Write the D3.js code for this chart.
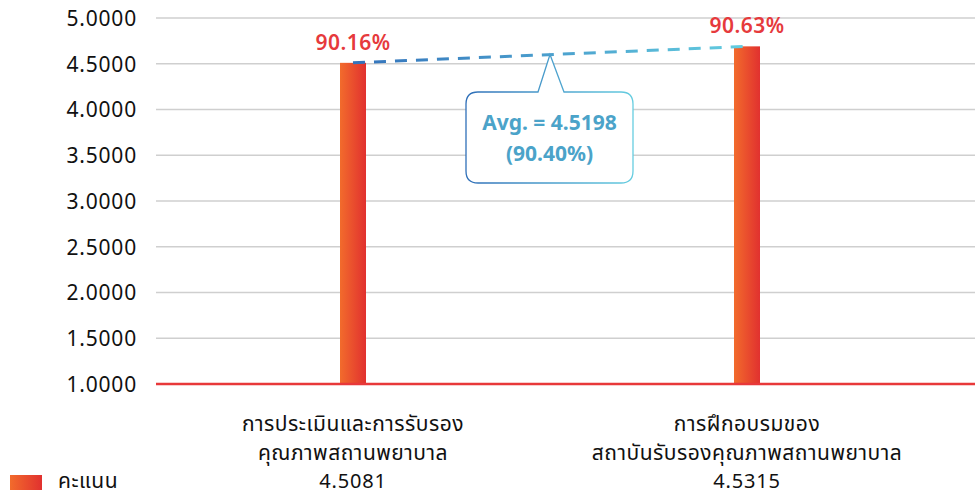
<!DOCTYPE html>
<html>
<head>
<meta charset="utf-8">
<script src="https://cdn.jsdelivr.net/npm/d3@7"></script>
<style>
body{margin:0;background:#fff;}
text{font-family:"Noto Sans","Noto Sans Thai","DejaVu Sans",sans-serif;}
</style>
</head>
<body>
<div id="svgContainer"></div>
<script>
// data
var categories = [["การประเมินและการรับรอง","คุณภาพสถานพยาบาล"],["การฝึกอบรมของ","สถาบันรับรองคุณภาพสถานพยาบาล"]];
var scores = [4.5081, 4.5315];          // values in the table row
var barValues = [4.51, 4.69];           // bar heights as drawn
var percentLabels = ["90.16%", "90.63%"];
var yTicks = [1, 1.5, 2, 2.5, 3, 3.5, 4, 4.5, 5];
var avgLabel = ["Avg. = 4.5198", "(90.40%)"];
var seriesName = "คะแนน";

var svgWidth = 975, svgHeight = 493;
var margin = {top:18, left:156, right:31, bottom:109};
var svg = d3.select("#svgContainer").append("svg")
    .attr("width", svgWidth).attr("height", svgHeight);

var defs = svg.append("defs");
var barGrad = defs.append("linearGradient").attr("id","barGrad")
    .attr("x1","0%").attr("x2","100%").attr("y1","0%").attr("y2","0%");
barGrad.append("stop").attr("offset","0%").attr("stop-color","#f26b2c");
barGrad.append("stop").attr("offset","100%").attr("stop-color","#e1312f");

var lineGrad = defs.append("linearGradient").attr("id","lineGrad")
    .attr("gradientUnits","userSpaceOnUse");
var boxGrad = defs.append("linearGradient").attr("id","boxGrad")
    .attr("x1","0%").attr("x2","100%").attr("y1","0%").attr("y2","0%");
boxGrad.append("stop").attr("offset","0%").attr("stop-color","#2f6fb8");
boxGrad.append("stop").attr("offset","100%").attr("stop-color","#66cde0");

var x = d3.scaleBand().domain(d3.range(categories.length))
    .range([margin.left, svgWidth - margin.right]);
var y = d3.scaleLinear().domain([1,5]).range([svgHeight - margin.bottom, margin.top]);

// gridlines
svg.append("g").selectAll("line").data(yTicks.slice(1)).enter().append("line")
    .attr("x1", margin.left).attr("x2", svgWidth)
    .attr("y1", d => y(d)).attr("y2", d => y(d))
    .attr("stroke", "#cfcfcf").attr("stroke-width", 1.3);

// y axis
var yAxis = svg.append("g")
    .attr("transform","translate(" + (margin.left - 19) + ",0)")
    .call(d3.axisLeft(y).tickValues(yTicks).tickFormat(d3.format(".4f")).tickSize(0).tickPadding(0));
yAxis.select(".domain").remove();
yAxis.selectAll("text").attr("font-size", 21).attr("letter-spacing", 0.8)
    .attr("fill", "#111").attr("dy","0.35em");

// bars
var bw = 26;
svg.append("g").selectAll("rect").data(barValues).enter().append("rect")
    .attr("x", (d,i) => x(i) + x.bandwidth()/2 - bw/2)
    .attr("y", d => y(d))
    .attr("width", bw)
    .attr("height", d => y(1) - y(d))
    .attr("fill", "url(#barGrad)");

// baseline
svg.append("line")
    .attr("x1", margin.left).attr("x2", svgWidth)
    .attr("y1", y(1)).attr("y2", y(1))
    .attr("stroke", "#e8383a").attr("stroke-width", 2.5);

// percentage labels
svg.append("g").selectAll("text").data(barValues).enter().append("text")
    .attr("x", (d,i) => x(i) + x.bandwidth()/2)
    .attr("y", d => y(d) - 13)
    .attr("text-anchor","middle")
    .attr("font-size", 21).attr("font-weight", 600).attr("letter-spacing", 0.5)
    .attr("fill", "#e63a3c")
    .text((d,i) => percentLabels[i]);

// dashed average line between bar tops
var p0 = [x(0) + x.bandwidth()/2, y(barValues[0])];
var p1 = [x(1) + x.bandwidth()/2, y(barValues[1])];
lineGrad.attr("x1", p0[0]).attr("x2", p1[0]).attr("y1", 0).attr("y2", 0);
lineGrad.append("stop").attr("offset","0%").attr("stop-color","#3372bb");
lineGrad.append("stop").attr("offset","100%").attr("stop-color","#63cde0");
svg.append("path")
    .attr("d", d3.line()([p0, p1]))
    .attr("stroke", "url(#lineGrad)").attr("stroke-width", 3)
    .attr("stroke-dasharray", "12,9").attr("fill","none");

// callout
var mid = [(p0[0] + p1[0]) / 2, (p0[1] + p1[1]) / 2];
var bx = mid[0] - 84, by = 92, bW = 167, bH = 91, r = 12;
var callout = "M" + (bx + r) + "," + by
    + "L" + (mid[0] - 12) + "," + by
    + "L" + mid[0] + "," + mid[1]
    + "L" + (mid[0] + 14) + "," + by
    + "L" + (bx + bW - r) + "," + by
    + "Q" + (bx + bW) + "," + by + " " + (bx + bW) + "," + (by + r)
    + "L" + (bx + bW) + "," + (by + bH - r)
    + "Q" + (bx + bW) + "," + (by + bH) + " " + (bx + bW - r) + "," + (by + bH)
    + "L" + (bx + r) + "," + (by + bH)
    + "Q" + bx + "," + (by + bH) + " " + bx + "," + (by + bH - r)
    + "L" + bx + "," + (by + r)
    + "Q" + bx + "," + by + " " + (bx + r) + "," + by + "Z";
svg.append("path").attr("d", callout)
    .attr("fill", "#fff").attr("stroke", "url(#boxGrad)").attr("stroke-width", 1.3);
svg.append("g").selectAll("text").data(avgLabel).enter().append("text")
    .attr("x", bx + bW/2)
    .attr("y", (d,i) => 130 + i * 31)
    .attr("text-anchor","middle")
    .attr("font-size", 21).attr("font-weight", 700)
    .attr("fill", "#4ba3c9")
    .text(d => d);

// category labels + values
var cat = svg.append("g").selectAll("g").data(categories).enter().append("g");
cat.each(function(lines, i){
    var g = d3.select(this);
    lines.forEach(function(t, j){
        g.append("text")
            .attr("x", x(i) + x.bandwidth()/2)
            .attr("y", 431 + j * 29)
            .attr("text-anchor","middle")
            .attr("font-size", 21).attr("letter-spacing", 0.5).attr("fill", "#111")
            .text(t);
    });
    g.append("text")
        .attr("x", x(i) + x.bandwidth()/2)
        .attr("y", 488)
        .attr("text-anchor","middle")
        .attr("font-size", 20).attr("letter-spacing", 0.8).attr("fill", "#111")
        .text(scores[i].toFixed(4));
});

// legend
svg.append("rect").attr("x", 10).attr("y", 475).attr("width", 32).attr("height", 15)
    .attr("fill", "url(#barGrad)");
svg.append("text").attr("x", 58).attr("y", 488)
    .attr("font-size", 21).attr("letter-spacing", 0.5).attr("fill", "#111").text(seriesName);
</script>
</body>
</html>
